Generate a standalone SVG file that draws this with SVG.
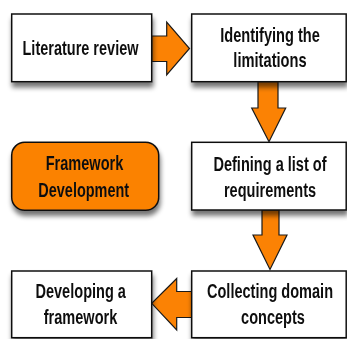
<svg xmlns="http://www.w3.org/2000/svg" width="347" height="339" viewBox="0 0 347 339">
<defs>
<filter id="sh" x="-20%" y="-20%" width="140%" height="150%">
<feGaussianBlur in="SourceAlpha" stdDeviation="2.5"/>
<feOffset dx="1" dy="5" result="b"/>
<feComponentTransfer><feFuncA type="linear" slope="0.55"/></feComponentTransfer>
<feMerge><feMergeNode/><feMergeNode in="SourceGraphic"/></feMerge>
</filter>
</defs>
<style>
.box{fill:#ffffff;stroke:#111111;stroke-width:1.5}
.org{fill:#FB8204;stroke:#111111;stroke-width:1.5}
.arr{fill:#FB8204;stroke:#1a1a1a;stroke-width:1.2;stroke-linejoin:miter}
text{font-family:"Liberation Sans",Arial,sans-serif;font-weight:bold;font-size:20.5px;fill:#111111;text-anchor:middle}
</style>
<rect width="347" height="339" fill="#ffffff"/>
<g id="connectors">
<polygon class="arr" points="151.7,36 166.7,36 166.7,22 189.5,48.5 166.7,75 166.7,61.5 151.7,61.5"/>
<polygon class="arr" points="258,81.7 278,81.7 278,108 285.7,108 269,141.7 251.7,108 258,108"/>
<polygon class="arr" points="262,210 279,210 279,235 287,235 270,269.5 253,235 262,235"/>
<polygon class="arr" points="191.7,291.5 176.7,291.5 176.7,278.5 151.7,303.3 176.7,330 176.7,317.5 191.7,317.5"/>
</g>
<g id="literature-review" filter="url(#sh)">
<rect class="box" x="11.7" y="14" width="140" height="67.7"/>
<text transform="translate(80.5,55) scale(0.707,1)">Literature review</text>
</g>
<g id="identifying-limitations" filter="url(#sh)">
<rect class="box" x="191.7" y="14" width="154.5" height="67.7"/>
<text transform="translate(270,41.7) scale(0.712,1)">Identifying the</text>
<text transform="translate(270,66.7) scale(0.716,1)">limitations</text>
</g>
<g id="framework-development" filter="url(#sh)">
<rect class="org" x="11.7" y="142.3" width="147" height="68" rx="13" ry="13"/>
<text transform="translate(84.5,169.5) scale(0.71,1)">Framework</text>
<text transform="translate(83.7,196.7) scale(0.705,1)">Development</text>
</g>
<g id="defining-requirements" filter="url(#sh)">
<rect class="box" x="191.7" y="142.3" width="154.5" height="67.7"/>
<text transform="translate(270,171) scale(0.71,1)">Defining a list of</text>
<text transform="translate(270,196.7) scale(0.71,1)">requirements</text>
</g>
<g id="developing-framework" filter="url(#sh)">
<rect class="box" x="11.7" y="271" width="140" height="66.7"/>
<text transform="translate(80.7,298.3) scale(0.71,1)">Developing a</text>
<text transform="translate(80.5,324.3) scale(0.71,1)">framework</text>
</g>
<g id="collecting-concepts" filter="url(#sh)">
<rect class="box" x="191.7" y="271" width="154.5" height="66.7"/>
<text transform="translate(270,298.3) scale(0.71,1)">Collecting domain</text>
<text transform="translate(273,324.3) scale(0.71,1)">concepts</text>
</g>
</svg>
